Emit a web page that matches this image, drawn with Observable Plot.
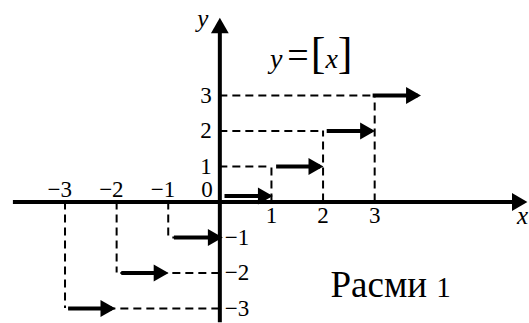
<!DOCTYPE html>
<html><head><meta charset="utf-8">
<script src="https://cdn.jsdelivr.net/npm/d3@7"></script>
<script src="https://cdn.jsdelivr.net/npm/@observablehq/plot@0.6"></script>
<style>
body{margin:0;background:#fff}
svg{display:block;background:#fff}
svg text, svg tspan{font-family:"Liberation Serif","Times New Roman",serif !important}
</style>
</head><body><div id="chart"></div>
<script>
// floor values n of y = [x] and the drawn extent of each step arrow
const floors = [-3, -2, -1, 0, 1, 2, 3];
const arrowFrom = [-2.93, -1.9, -0.88, 0.1, 1.1, 2.08, 2.97];
const arrowTo = [-2.08, -1.05, 0, 0.97, 1.95, 2.95, 3.84];
// dashed guide lines at these integers
const guideValues = [-3, -2, -1, 1, 2, 3];
// tick labels
const xTickValues = [-3, -2, -1, 1, 2, 3];
const xTickLabels = ["−3", "−2", "−1", "1", "2", "3"];
const yTickValues = [-3, -2, -1, 1, 2, 3];
const yTickLabels = ["−3", "−2", "−1", "1", "2", "3"];
const formula = "y = [x]";
const caption = "Расми 1";

const steps = floors.map((n, i) => ({n, x1: arrowFrom[i], x2: arrowTo[i]}));
const font = "Liberation Serif";
const xStart = -4.0, xTip = 5.96, yBottom = -3.4, yTip = 5.19;

const dash = {stroke: "black", strokeWidth: 2, strokeDasharray: "8,5"};
const txt = {fontFamily: font, fill: "black", fontSize: 23};

const svg = Plot.plot({
  width: 529, height: 323, margin: 0,
  style: {background: "white", fontFamily: font},
  x: {domain: [-4.25, 6], axis: null},
  y: {domain: [-3, 3], range: [308, 95], axis: null},
  marks: [
    // dashed guides
    Plot.ruleY(guideValues, {y: d => d, x1: 0, x2: d => d, ...dash}),
    Plot.ruleX(guideValues, {x: d => d, y1: 0, y2: d => d, ...dash}),
    // axes
    Plot.ruleY([0], {x1: xStart, x2: xTip - 0.1, stroke: "black", strokeWidth: 4}),
    Plot.ruleX([0], {y1: yBottom, y2: yTip - 0.2, stroke: "black", strokeWidth: 4}),
    Plot.dot([xTip], {x: d => d, y: 0, symbol: "triangle", r: 6.6, rotate: 90, fill: "black", dx: -10.3}),
    Plot.dot([yTip], {x: 0, y: d => d, symbol: "triangle", r: 6.6, fill: "black", dy: 10.3}),
    // step arrows
    Plot.ruleY(steps, {filter: d => d.n !== 0, y: "n", x1: "x1", x2: "x2", stroke: "black", strokeWidth: 4}),
    Plot.dot(steps, {filter: d => d.n !== 0, x: "x2", y: "n", symbol: "triangle", r: 6.4, rotate: 90, fill: "black", dx: -7}),
    Plot.ruleY(steps, {filter: d => d.n === 0, y: "n", x1: "x1", x2: "x2", stroke: "black", strokeWidth: 4, dy: -6}),
    Plot.dot(steps, {filter: d => d.n === 0, x: "x2", y: "n", symbol: "triangle", r: 6.4, rotate: 90, fill: "black", dx: -7, dy: -6}),
    // x tick labels
    Plot.text(xTickValues.map((v, i) => ({v, t: xTickLabels[i]})), {filter: d => d.v < 0, x: "v", y: 0, text: "t", textAnchor: "end", dx: 7, dy: -12, ...txt}),
    Plot.text(xTickValues.map((v, i) => ({v, t: xTickLabels[i]})), {filter: d => d.v > 0, x: "v", y: 0, text: "t", dy: 14, ...txt}),
    Plot.text(["0"], {x: 0, y: 0, text: d => d, textAnchor: "end", dx: -7, dy: -12, ...txt}),
    // y tick labels
    Plot.text(yTickValues.map((v, i) => ({v, t: yTickLabels[i]})), {filter: d => d.v > 0, x: 0, y: "v", text: "t", textAnchor: "end", dx: -8, ...txt}),
    Plot.text(yTickValues.map((v, i) => ({v, t: yTickLabels[i]})), {filter: d => d.v < 0, x: 0, y: "v", text: "t", textAnchor: "start", dx: 5, ...txt}),
    // axis names
    Plot.text(["y"], {x: 0, y: yTip, text: d => d, dx: -17, dy: 1, ...txt, fontSize: 25, fontStyle: "italic"}),
    Plot.text(["x"], {x: xTip, y: 0, text: d => d, dx: -5, dy: 14, ...txt, fontSize: 25, fontStyle: "italic"}),
    // formula and caption
    Plot.text([formula], {x: 1.77, y: 4.04, text: d => d, ...txt, fontSize: 28}),
    Plot.text([caption], {x: 3.31, y: -2.35, text: d => d, ...txt, fontSize: 37})
  ]
});

// typeset the formula and caption with mixed styles (still real text)
d3.select(svg).selectAll("text").filter(function () { return this.textContent === formula; }).each(function () {
  const t = d3.select(this);
  t.text("");
  t.append("tspan").attr("font-style", "italic").text("y");
  t.append("tspan").attr("font-size", 38).attr("dx", 5).text("=");
  t.append("tspan").attr("font-size", 44).attr("dx", 2).text("[");
  t.append("tspan").attr("font-style", "italic").text("x");
  t.append("tspan").attr("font-size", 44).text("]");
});
d3.select(svg).selectAll("text").filter(function () { return this.textContent === caption; }).each(function () {
  const t = d3.select(this);
  t.text("");
  t.append("tspan").text("Расми ");
  t.append("tspan").attr("font-size", 29).text("1");
});

document.getElementById("chart").appendChild(svg);
</script>
</body></html>
